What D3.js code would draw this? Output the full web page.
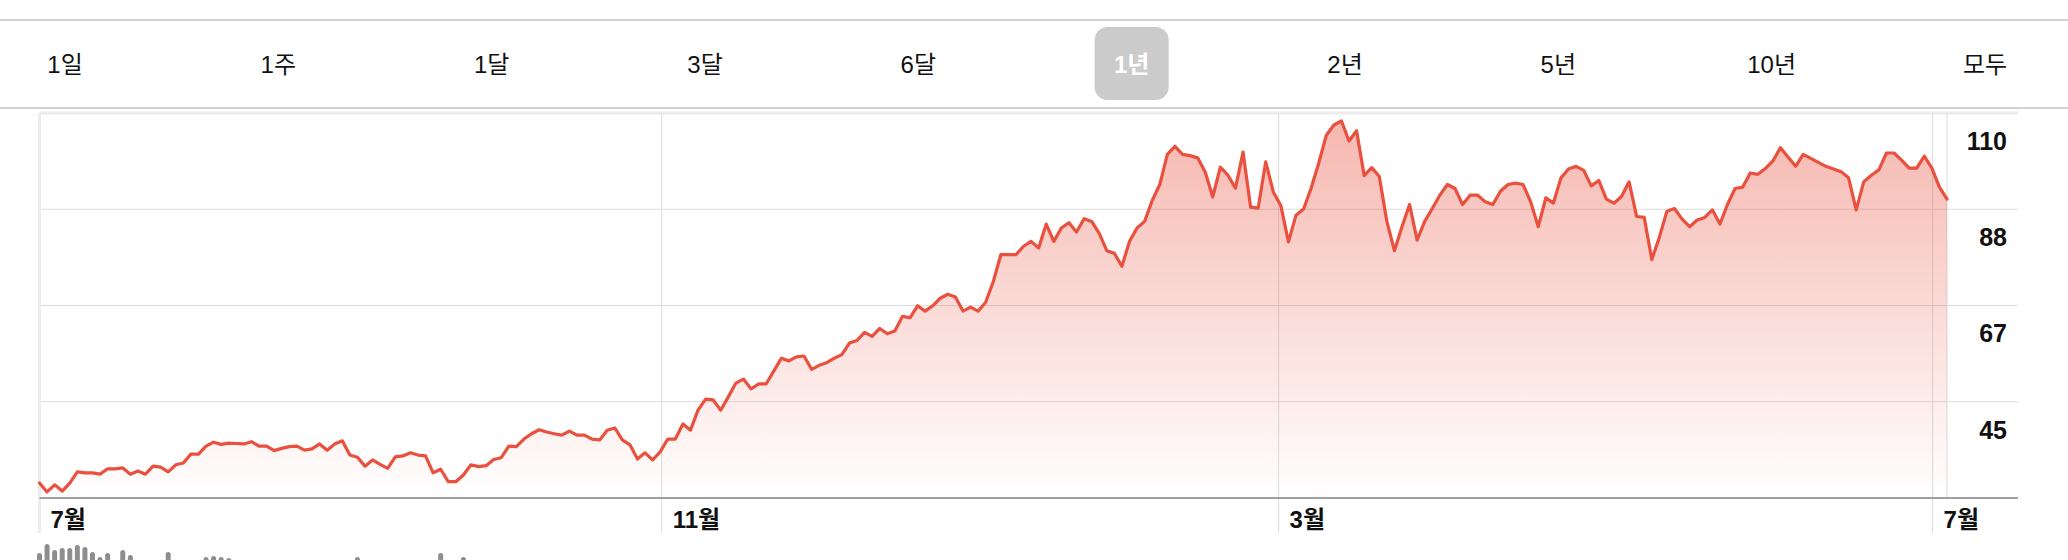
<!DOCTYPE html>
<html><head><meta charset="utf-8">
<script src="https://cdn.jsdelivr.net/npm/d3@7"></script>
<style>html,body{margin:0;padding:0;background:#fff}svg{display:block}</style>
</head><body><svg id="c" width="2068" height="560"></svg>
<script>
// ---- data ----
const rangeLabels = ['1일','1주','1달','3달','6달','1년','2년','5년','10년','모두'];
const selectedRange = '1년';

const priceValues = [
  26.7, 24.7, 26.3, 24.9, 26.7, 29.2, 29.0, 29.0, 28.7, 29.9, 29.9, 30.1, 28.7, 29.4, 28.7, 30.5, 30.3, 29.2, 30.8, 31.2, 33.2, 33.2,
  35.0, 35.9, 35.4, 35.7, 35.6, 35.5, 36.0, 35.0, 35.0, 34.0, 34.5, 34.9, 35.0, 34.1, 34.4, 35.5, 34.1, 35.5, 36.2, 33.0, 32.5, 30.5,
  31.9, 30.9, 30.0, 32.6, 32.8, 33.5, 33.0, 32.8, 29.0, 29.8, 27.0, 27.0, 28.5, 30.8, 30.4, 30.6, 32.0, 32.4, 35.0, 34.9, 36.6,
  37.8, 38.7, 38.2, 37.8, 37.5, 38.4, 37.5, 37.5, 36.6,
  36.4, 38.6, 39.1, 36.4, 35.3, 32.1, 33.5, 31.9, 33.7, 36.6, 36.6, 40.0, 38.6, 43.1, 45.6, 45.4, 43.1, 46.1, 49.2, 50.1, 47.9, 49.0,
  49.0, 51.9, 54.8, 54.2, 55.1,
  55.3, 52.3, 53.2, 53.8, 54.8, 55.6, 58.2, 58.8, 60.6, 59.7, 61.5, 60.3, 60.9, 64.2, 63.9, 66.6, 65.4, 66.6, 68.3, 69.2, 68.6, 65.4,
  66.3, 65.4, 67.4, 72.0, 78.1, 78.1, 78.1, 80.0, 81.1, 79.6, 85.0, 81.1, 84.1, 85.3, 83.2, 86.2, 85.6, 82.9, 79.0, 78.4, 75.5, 81.1,
  84.1, 85.6, 90.3, 93.9, 100.7, 102.5, 100.7, 100.4,
  99.9, 96.7, 91.1, 97.8, 96.0, 93.1, 101.2, 88.8, 88.6, 99.0, 92.2, 89.1, 81.0, 87.0, 88.4, 93.1, 98.7, 105.0, 107.3, 108.2,
  103.7, 106.0, 95.9, 97.7, 95.7, 85.6, 79.0, 84.4, 89.4, 81.4, 85.6, 88.5, 91.5, 93.9, 93.0, 89.4, 91.5, 91.5, 90.0, 89.4, 92.4,
  93.9, 94.2, 93.9, 90.0, 84.4, 90.9, 89.7, 95.4, 97.4, 98.0, 97.1, 93.6, 94.8, 90.6, 89.7, 91.2, 94.5, 86.7, 86.5, 77.0, 82.0,
  87.9, 88.5, 86.1, 84.4, 85.9, 86.5, 88.2, 85.0, 89.4, 93.0, 93.3, 96.5, 96.2, 97.5, 99.2, 102.2, 100.1, 98.0, 100.7, 99.8, 98.9,
  98.0, 97.4, 96.8,
  95.4, 88.2, 94.5, 96.0, 97.2, 101.0, 101.0, 99.4, 97.6, 97.6, 100.3, 97.6, 93.3, 90.6
];

const monthLabels = ['7월', '11월', '3월', '7월'];
const monthPos = [0, 82.2, 163.7, 250.1];   // trading-day index of each month start

const yTickValues = [110, 88.33, 66.67, 45];
const yTickLabels = ['110', '88', '67', '45'];

const volumeIdx = [0, 1, 2, 3, 4, 5, 6, 7, 8, 9, 11, 12, 17, 22, 23, 24, 25, 42, 53, 56];
const volumeValues = [83.8, 95, 87.5, 90, 90, 93.8, 91.3, 85, 78.8, 83.8, 87.5, 81.3, 85, 78.8, 80, 78.8, 77.5, 78.8, 83.8, 78.8];

// ---- drawing ----
const W = 2068;
const FONT = '"Liberation Sans","Noto Sans CJK KR",sans-serif';
const svg = d3.select('#c');
const RED = '#e9503e';

// separators
svg.append('line').attr('x1', 0).attr('x2', W).attr('y1', 20).attr('y2', 20)
  .attr('stroke', '#d2d2d2').attr('stroke-width', 2);
svg.append('line').attr('x1', 0).attr('x2', W).attr('y1', 108).attr('y2', 108)
  .attr('stroke', '#d2d2d2').attr('stroke-width', 2);

// range buttons
const bx = d3.scalePoint().domain(rangeLabels).range([65, 1985]);
svg.append('rect')
  .attr('x', bx(selectedRange) - 37).attr('y', 27).attr('width', 74).attr('height', 73)
  .attr('rx', 13).attr('fill', '#cbcbcb');
svg.append('g').selectAll('text').data(rangeLabels).join('text')
  .attr('x', d => bx(d)).attr('y', 64)
  .attr('text-anchor', 'middle').attr('dominant-baseline', 'central')
  .attr('font-family', FONT).attr('font-size', 24)
  .attr('font-weight', d => d === selectedRange ? 700 : 400)
  .attr('fill', d => d === selectedRange ? '#ffffff' : '#111111')
  .text(d => d);

// scales
const x = d3.scaleLinear().domain([0, priceValues.length - 1]).range([39.5, 1947]);
const yMin = 2 * yTickValues[3] - yTickValues[2];
const y = d3.scaleLinear().domain([yMin, yTickValues[0]]).range([498, 113]);
const left = 39.5, right = 2018;

// gradient
const defs = svg.append('defs');
const grad = defs.append('linearGradient').attr('id', 'g').attr('gradientUnits', 'userSpaceOnUse')
  .attr('x1', 0).attr('y1', y(yTickValues[0])).attr('x2', 0).attr('y2', y(yMin));
grad.append('stop').attr('offset', 0).attr('stop-color', RED).attr('stop-opacity', 0.42);
grad.append('stop').attr('offset', 1).attr('stop-color', RED).attr('stop-opacity', 0.0);

// horizontal gridlines
svg.append('g').selectAll('line').data(yTickValues).join('line')
  .attr('x1', left).attr('x2', right)
  .attr('y1', d => y(d)).attr('y2', d => y(d))
  .attr('stroke', (d, i) => i === 0 ? '#ececec' : '#dcdcdc')
  .attr('stroke-width', (d, i) => i === 0 ? 3 : 1);

// vertical month lines
svg.append('g').selectAll('line').data(monthPos).join('line')
  .attr('x1', d => x(d)).attr('x2', d => x(d))
  .attr('y1', 113).attr('y2', 533)
  .attr('stroke', (d, i) => i === 0 ? '#ececec' : '#dcdcdc')
  .attr('stroke-width', (d, i) => i === 0 ? 3 : 1);

// data-end line
svg.append('line')
  .attr('x1', x(priceValues.length - 1)).attr('x2', x(priceValues.length - 1))
  .attr('y1', 113).attr('y2', 498).attr('stroke', '#dcdcdc').attr('stroke-width', 1);

// area + line
const area = d3.area().x((d, i) => x(i)).y0(y(yMin)).y1(d => y(d));
svg.append('path').datum(priceValues).attr('d', area).attr('fill', 'url(#g)');
const line = d3.line().x((d, i) => x(i)).y(d => y(d));
svg.append('path').datum(priceValues).attr('d', line)
  .attr('fill', 'none').attr('stroke', RED).attr('stroke-width', 3.2)
  .attr('stroke-linejoin', 'round').attr('stroke-linecap', 'round');

// x axis baseline
svg.append('line').attr('x1', left).attr('x2', right).attr('y1', 498).attr('y2', 498)
  .attr('stroke', '#a0a0a0').attr('stroke-width', 2);

// y labels
svg.append('g').selectAll('text').data(yTickValues).join('text')
  .attr('x', 2007).attr('y', d => y(d) + 28)
  .attr('text-anchor', 'end').attr('dominant-baseline', 'central')
  .attr('font-family', FONT).attr('font-size', 25).attr('font-weight', 700)
  .attr('fill', '#111').text((d, i) => yTickLabels[i]);

// x labels
svg.append('g').selectAll('text').data(monthPos).join('text')
  .attr('x', d => x(d) + 11).attr('y', 519)
  .attr('dominant-baseline', 'central')
  .attr('font-family', FONT).attr('font-size', 24).attr('font-weight', 700)
  .attr('fill', '#111').text((d, i) => monthLabels[i]);

// volume bars (mostly below the visible area)
const yv = d3.scaleLinear().domain([0, 100]).range([620, 540]);
svg.append('g').selectAll('rect').data(volumeIdx).join('rect')
  .attr('x', d => x(d) - 2.5).attr('width', 5)
  .attr('y', (d, i) => yv(volumeValues[i])).attr('height', (d, i) => 620 - yv(volumeValues[i]))
  .attr('rx', 2.5).attr('fill', '#8e8e8e');
</script>
</body></html>
